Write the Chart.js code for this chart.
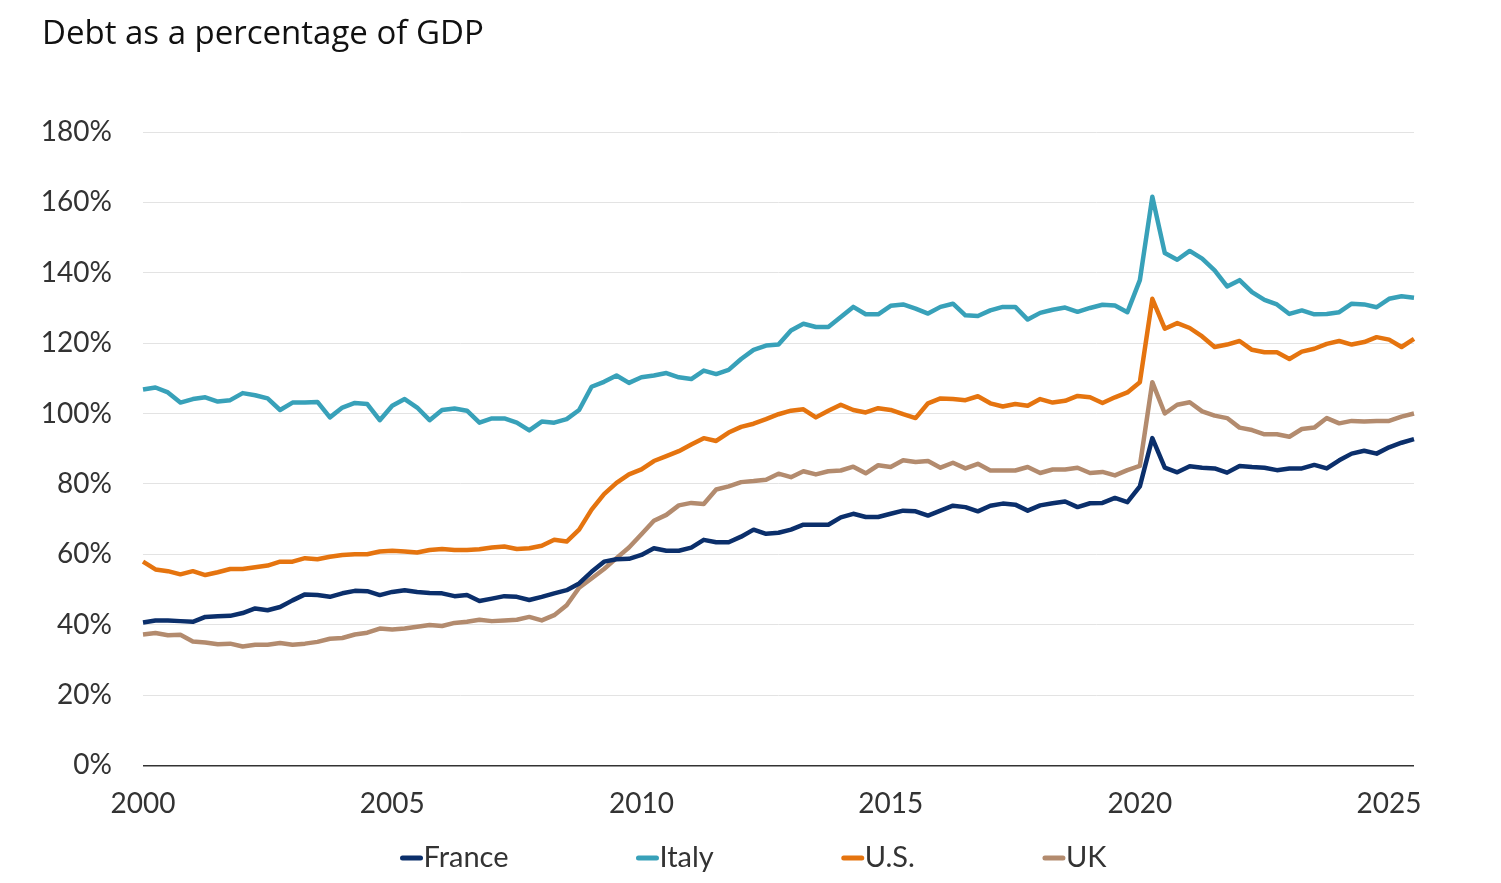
<!DOCTYPE html>
<html>
<head>
<meta charset="utf-8">
<script src="https://cdn.jsdelivr.net/npm/chart.js@4.4.1/dist/chart.umd.min.js"></script>
<style>
  html, body { margin: 0; padding: 0; background: #fff; }
  #wrap { width: 1501px; height: 883px; }
</style>
</head>
<body>
<div id="wrap"><canvas id="debtChart"></canvas></div>
<script>
// quarterly readings, 2000 Q1 .. 2025 Q3
const quarters = [];
for (let y = 2000; y <= 2025; y++) {
  for (let q = 1; q <= 4; q++) {
    if (quarters.length < 103) quarters.push(y + 'Q' + q);
  }
}

const france = [
  40.6, 41.2, 41.2, 41.0, 40.8, 42.2, 42.4, 42.5, 43.3, 44.6, 44.1, 45.0, 46.9, 48.6, 48.4, 47.9, 48.9, 49.6, 49.5, 48.4, 49.3, 49.8, 49.3, 49.0, 48.9, 48.1,
  48.4, 46.7, 47.4, 48.1, 47.9, 47.0, 47.9, 48.9, 49.8, 51.7, 55.0, 57.9, 58.6, 58.7, 59.8, 61.7, 61.0, 61.0, 61.9, 64.1, 63.4, 63.4, 65.0, 67.0, 65.8, 66.1,
  67.0, 68.4, 68.4, 68.4, 70.5, 71.5, 70.6, 70.6, 71.5, 72.4, 72.2, 71.0, 72.4, 73.8, 73.4, 72.2, 73.8, 74.4, 74.1, 72.4, 73.9, 74.5, 75.0, 73.4, 74.5, 74.6,
  76.0, 74.8, 79.3, 93.0, 84.6, 83.3, 85.0, 84.6, 84.4, 83.2, 85.1, 84.8, 84.6, 83.9, 84.4, 84.4, 85.4, 84.4, 86.7, 88.6, 89.4, 88.6, 90.4, 91.7, 92.7
];
const italy = [
  106.8, 107.4, 106.0, 103.1, 104.1, 104.6, 103.4, 103.8, 105.8, 105.2, 104.3, 101.0, 103.1, 103.1, 103.3, 98.9, 101.7, 103.0, 102.7, 98.1, 102.2, 104.1, 101.7, 98.1, 101.0, 101.4,
  100.8, 97.4, 98.6, 98.6, 97.4, 95.2, 97.7, 97.4, 98.4, 101.0, 107.6, 109.0, 110.8, 108.7, 110.3, 110.8, 111.5, 110.3, 109.8, 112.2, 111.2, 112.4, 115.5, 118.1, 119.3, 119.6,
  123.6, 125.5, 124.6, 124.6, 127.4, 130.3, 128.2, 128.2, 130.6, 131.0, 129.8, 128.4, 130.3, 131.2, 127.9, 127.7, 129.3, 130.3, 130.3, 126.7, 128.6, 129.5, 130.1, 128.9, 130.0, 130.9,
  130.7, 128.8, 137.9, 161.6, 145.6, 143.7, 146.2, 144.0, 140.7, 136.1, 137.9, 134.5, 132.3, 131.0, 128.3, 129.3, 128.2, 128.3, 128.8, 131.2, 131.0, 130.2, 132.6, 133.3, 132.9
];
const us = [
  57.9, 55.7, 55.2, 54.3, 55.2, 54.1, 54.9, 55.8, 55.8, 56.3, 56.8, 57.9, 57.9, 58.9, 58.6, 59.3, 59.8, 60.0, 60.0, 60.8, 61.0, 60.8, 60.5, 61.2, 61.5, 61.2,
  61.2, 61.4, 61.9, 62.2, 61.5, 61.7, 62.4, 64.1, 63.6, 67.0, 72.7, 77.1, 80.3, 82.7, 84.1, 86.5, 87.9, 89.3, 91.2, 93.0, 92.2, 94.6, 96.2, 97.1, 98.4, 99.8,
  100.8, 101.2, 98.9, 100.8, 102.5, 101.0, 100.3, 101.5, 101.0, 99.8, 98.7, 102.9, 104.3, 104.1, 103.8, 104.9, 102.9, 102.0, 102.7, 102.2, 104.1, 103.1, 103.6, 105.0, 104.6, 103.0,
  104.6, 106.0, 108.9, 132.6, 124.1, 125.7, 124.3, 121.9, 118.9, 119.6, 120.6, 118.1, 117.4, 117.4, 115.5, 117.6, 118.4, 119.8, 120.6, 119.6, 120.3, 121.7, 121.0, 118.9, 121.2
];
const uk = [
  37.2, 37.6, 37.0, 37.1, 35.2, 34.9, 34.4, 34.6, 33.8, 34.3, 34.3, 34.8, 34.3, 34.6, 35.1, 36.0, 36.2, 37.2, 37.7, 38.9, 38.6, 38.9, 39.4, 39.9, 39.6, 40.5,
  40.8, 41.4, 41.0, 41.2, 41.4, 42.2, 41.2, 42.7, 45.5, 50.5, 53.1, 55.8, 58.9, 61.9, 65.7, 69.5, 71.2, 73.9, 74.6, 74.3, 78.4, 79.3, 80.5, 80.8, 81.2, 82.9,
  81.9, 83.6, 82.7, 83.6, 83.8, 84.9, 83.0, 85.3, 84.8, 86.7, 86.2, 86.5, 84.6, 86.0, 84.4, 85.7, 83.8, 83.8, 83.8, 84.8, 83.1, 84.1, 84.1, 84.6, 83.1, 83.4,
  82.4, 83.9, 85.1, 108.9, 100.0, 102.5, 103.2, 100.6, 99.4, 98.7, 96.0, 95.3, 94.1, 94.1, 93.4, 95.6, 96.0, 98.7, 97.2, 97.9, 97.7, 97.9, 97.9, 99.1, 100.0
];

const yTicks = [0, 20, 40, 60, 80, 100, 120, 140, 160, 180];
const yearTicks = ['2000', '2005', '2010', '2015', '2020', '2025'];

const FONT = 'Lato, "Open Sans", sans-serif';

// legend row under the axis: short line + label, no gap between them
const lineLegend = {
  id: 'lineLegend',
  afterDraw(chart) {
    const ctx = chart.ctx;
    const gap = 128, swatch = 22, y = 858;
    ctx.save();
    ctx.font = '29px ' + FONT;
    ctx.textBaseline = 'middle';
    const items = chart.data.datasets.map(ds => ({
      text: ds.label, color: ds.borderColor,
      w: swatch + 1 + ctx.measureText(ds.label).width
    }));
    const total = items.reduce((s, it) => s + it.w, 0) + gap * (items.length - 1);
    let x = chart.width / 2 - total / 2 + 3;
    items.forEach(it => {
      ctx.strokeStyle = it.color;
      ctx.lineWidth = 5;
      ctx.lineCap = 'round';
      ctx.beginPath();
      ctx.moveTo(x + 2, y);
      ctx.lineTo(x + swatch - 2, y);
      ctx.stroke();
      ctx.fillStyle = '#333';
      ctx.fillText(it.text, x + swatch + 1, y);
      x += it.w + gap;
    });
    ctx.restore();
  }
};

function series(label, data, color) {
  return {
    label: label,
    data: data,
    borderColor: color,
    backgroundColor: color,
    borderWidth: 4.5,
    pointRadius: 0,
    tension: 0,
    borderJoinStyle: 'round',
    fill: false
  };
}

new Chart(document.getElementById('debtChart'), {
  type: 'line',
  data: {
    labels: quarters,
    datasets: [
      series('France', france, '#0b2f6b'),
      series('Italy', italy, '#38a1b9'),
      series('U.S.', us, '#e5740f'),
      series('UK', uk, '#b38b6e')
    ]
  },
  options: {
    responsive: true,
    maintainAspectRatio: false,
    animation: false,
    layout: { padding: { left: 42, right: 87, top: 0, bottom: 40 } },
    plugins: {
      legend: { display: false },
      tooltip: { enabled: false },
      title: {
        display: true,
        text: 'Debt as a percentage of GDP',
        align: 'start',
        color: '#111',
        font: { family: '"Open Sans", sans-serif', size: 33, weight: 'normal' },
        padding: { top: 15, bottom: 77.4 }
      }
    },
    scales: {
      x: {
        type: 'category',
        offset: false,
        grid: { display: false, drawTicks: false },
        border: { display: false },
        ticks: {
          autoSkip: false,
          maxRotation: 0,
          padding: 22,
          color: '#333',
          font: { family: FONT, size: 28 },
          callback: function (val) {
            const lab = this.getLabelForValue(val);
            const yr = lab.slice(0, 4);
            return lab.endsWith('Q1') && yearTicks.includes(yr) ? yr : '';
          }
        }
      },
      y: {
        min: 0,
        max: 180,
        afterFit: s => { s.width = 101; },
        afterBuildTicks: s => { s.ticks = yTicks.map(v => ({ value: v })); },
        grid: {
          drawTicks: false,
          color: c => c.tick && c.tick.value === 0 ? '#333' : '#e3e3e3',
          lineWidth: c => c.tick && c.tick.value === 0 ? 1.5 : 1
        },
        border: { display: false },
        ticks: {
          padding: 31,
          color: '#333',
          font: { family: FONT, size: 28 },
          callback: v => v + '%'
        }
      }
    }
  },
  plugins: [lineLegend]
});
</script>
</body>
</html>
